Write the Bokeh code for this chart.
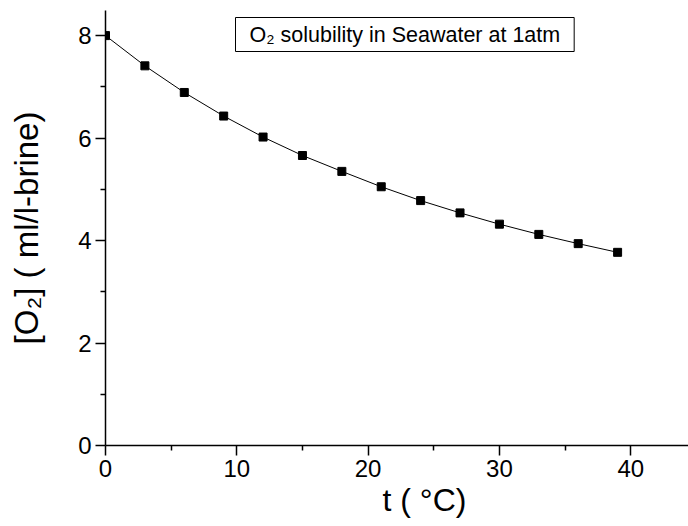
import math
from bokeh.plotting import figure
from bokeh.models import ColumnDataSource, FixedTicker, Label, Range1d, Title
from bokeh.embed import file_html
from bokeh.resources import INLINE

# ---- data ----
temperature_c = [0, 3, 6, 9, 12, 15, 18, 21, 24, 27, 30, 33, 36, 39]
o2_ml_per_l = [8.00, 7.41, 6.89, 6.43, 6.02, 5.66, 5.35, 5.05, 4.78, 4.54, 4.32, 4.12, 3.94, 3.77]

x_major_ticks = [0, 10, 20, 30, 40]
x_minor_ticks = [5, 15, 25, 35, 45]
y_major_ticks = [0, 2, 4, 6, 8]
y_minor_ticks = [1, 3, 5, 7]

FONT = "Liberation Sans"

p = figure(width=688, height=526, output_backend="svg", toolbar_location=None,
           x_range=Range1d(0, 44.4), y_range=Range1d(0, 8.49),
           min_border_left=105, min_border_right=0, min_border_top=10, min_border_bottom=81)
p.outline_line_color = None
p.xgrid.visible = False
p.ygrid.visible = False
p.background_fill_color = "white"
p.border_fill_color = "white"

src = ColumnDataSource(dict(t=temperature_c, o2=o2_ml_per_l))
p.line("t", "o2", source=src, line_color="black", line_width=1)
p.scatter("t", "o2", source=src, marker="square", size=8,
          fill_color="black", line_color="black")

for ax, major, minor in ((p.xaxis[0], x_major_ticks, x_minor_ticks),
                         (p.yaxis[0], y_major_ticks, y_minor_ticks)):
    ax.ticker = FixedTicker(ticks=major, minor_ticks=minor)
    ax.axis_line_color = "black"
    ax.axis_line_width = 1.5
    ax.major_tick_line_color = "black"
    ax.major_tick_line_width = 1.5
    ax.minor_tick_line_color = "black"
    ax.minor_tick_line_width = 1.5
    ax.major_tick_in = 0
    ax.major_tick_out = 10
    ax.minor_tick_in = 0
    ax.minor_tick_out = 5
    ax.major_label_text_font = FONT
    ax.major_label_text_font_size = "24px"
    ax.major_label_text_color = "black"
    ax.major_label_standoff = 4

p.yaxis[0].axis_label = "[O\u2082] ( ml/l-brine)"
p.yaxis[0].axis_label_text_font = FONT
p.yaxis[0].axis_label_text_font_size = "33px"
p.yaxis[0].axis_label_text_font_style = "normal"
p.yaxis[0].axis_label_text_color = "black"
p.yaxis[0].axis_label_standoff = 30

# x axis title (placed off-centre as in the reference)
p.add_layout(Title(text="t ( \u00b0C)", align="left", offset=277, standoff=0,
                   text_font=FONT, text_font_size="32px", text_font_style="normal",
                   text_color="black"), "below")

# boxed annotation
p.add_layout(Label(x=130, y=428, x_units="screen", y_units="screen",
                   text="O\u2082 solubility in Seawater at 1atm", text_font=FONT,
                   text_font_size="21.5px", text_color="black",
                   anchor="top_left", text_align="left", text_baseline="top",
                   padding=(14, 5), border_line_color="black", border_line_width=1,
                   background_fill_color="white"))

open("out.html", "w").write(file_html(p, INLINE))
